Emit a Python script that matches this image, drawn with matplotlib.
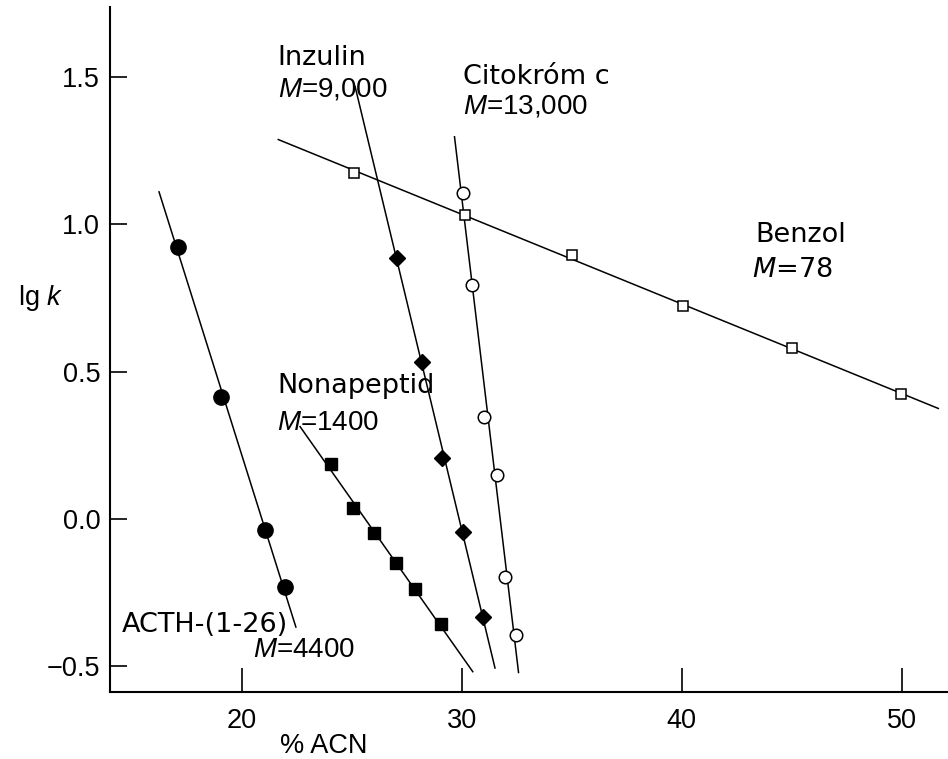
import numpy as np
import matplotlib
matplotlib.use("Agg")
import matplotlib.pyplot as plt

plt.rcParams['mathtext.fontset'] = 'custom'
plt.rcParams['mathtext.rm'] = 'Liberation Sans'
plt.rcParams['mathtext.it'] = 'Liberation Sans:italic'

# retention data, lg k vs % acetonitrile
acth_x = [17.1, 19.05, 21.05, 21.95]
acth_y = [0.924, 0.415, -0.037, -0.23]

nona_x = [24.05, 25.04, 26.02, 27.01, 27.87, 29.04]
nona_y = [0.186, 0.038, -0.047, -0.150, -0.239, -0.357]

inz_x = [27.07, 28.18, 29.09, 30.07, 30.98]
inz_y = [0.885, 0.532, 0.206, -0.043, -0.334]

cito_x = [30.07, 30.48, 31.01, 31.59, 31.98, 32.46]
cito_y = [1.106, 0.794, 0.346, 0.149, -0.196, -0.394]

benz_x = [25.1, 30.15, 35.0, 40.05, 45.0, 49.95]
benz_y = [1.176, 1.031, 0.896, 0.723, 0.579, 0.424]

# x range covered by each fitted line
acth_fit = [16.24, 22.46]
nona_fit = [22.65, 30.5]
inz_fit = [25.15, 31.51]
cito_fit = [29.67, 32.58]
benz_fit = [21.66, 51.66]

xticks = [20, 30, 40, 50]
yticks = [-0.5, 0.0, 0.5, 1.0, 1.5]

fig = plt.figure(figsize=(9.48, 7.59), dpi=100)
ax = fig.add_axes([0.116, 0.0887, 0.884, 0.9025])


def fit_line(xs, ys, rng):
    p = np.polyfit(xs, ys, 1)
    xx = np.array(rng)
    ax.plot(xx, np.polyval(p, xx), color='black', lw=1.1, zorder=1)


for xs, ys, rng in [(acth_x, acth_y, acth_fit), (nona_x, nona_y, nona_fit),
                    (inz_x, inz_y, inz_fit), (cito_x, cito_y, cito_fit),
                    (benz_x, benz_y, benz_fit)]:
    fit_line(xs, ys, rng)

ax.plot(acth_x, acth_y, 'o', color='black', ms=11, ls='none', zorder=3)
ax.plot(nona_x, nona_y, 's', color='black', ms=8.5, ls='none', zorder=3)
ax.plot(inz_x, inz_y, 'D', color='black', ms=8.5, ls='none', zorder=3)
ax.plot(cito_x, cito_y, 'o', mfc='white', mec='black', mew=1.1, ms=9,
        ls='none', zorder=3)
ax.plot(benz_x, benz_y, 's', mfc='white', mec='black', mew=1.1, ms=7.5,
        ls='none', zorder=3)

ax.set_xlim(14.01, 52.1)
ax.set_ylim(-0.586, 1.739)
ax.set_xticks(xticks)
ax.set_yticks(yticks)
ax.set_xticklabels([str(t) for t in xticks])
ax.set_yticklabels(['\u22120.5', '0.0', '0.5', '1.0', '1.5'])
for s in ['top', 'right']:
    ax.spines[s].set_visible(False)
for s in ['left', 'bottom']:
    ax.spines[s].set_linewidth(1.5)
ax.tick_params(axis='x', direction='in', length=17, width=1.2, pad=12)
ax.tick_params(axis='y', direction='in', length=12, width=1.2, pad=7)
for lab in ax.get_xticklabels() + ax.get_yticklabels():
    lab.set_fontfamily('Liberation Sans')
    lab.set_fontsize(19.5)

name_kw = dict(family='DejaVu Sans', fontsize=19.5, va='baseline', ha='left')
m_kw = dict(family='Liberation Sans', fontsize=20, va='baseline', ha='left')

ax.text(21.63, 1.541, 'Inzulin', **name_kw)
ax.text(21.63, 1.433, '$M$=9,000', **m_kw)
ax.text(30.04, 1.476, 'Citokróm c', **name_kw)
ax.text(30.04, 1.377, '$M$=13,000', **m_kw)
ax.text(43.33, 0.939, 'Benzol', **name_kw)
ax.text(43.18, 0.820, '$M$=78', math_fontfamily='dejavusans', **name_kw)
ax.text(21.6, 0.428, 'Nonapeptid', **name_kw)
ax.text(21.59, 0.302, '$M$=1400', **m_kw)
ax.text(14.54, -0.383, 'ACTH-(1-26)', **name_kw)
ax.text(20.52, -0.467, '$M$=4400', **m_kw)

fig.text(0.019, 0.598, 'lg $k$', family='Liberation Sans', fontsize=19.5,
         va='baseline', ha='left')
fig.text(0.341, 0.008, '% ACN', family='Liberation Sans', fontsize=19.5,
         va='baseline', ha='center')

fig.savefig('out.png', dpi=100)
